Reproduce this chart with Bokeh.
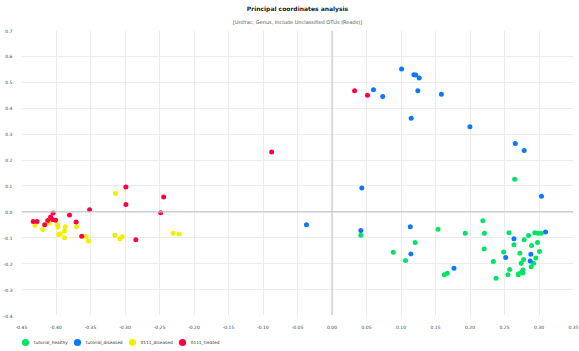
from bokeh.plotting import figure
from bokeh.layouts import column
from bokeh.models import Range1d, Title, Legend, LegendItem, Span, FixedTicker, NumeralTickFormatter
from bokeh.embed import file_html
from bokeh.resources import INLINE

title_text = "Principal coordinates analysis"
subtitle_text = "[Unifrac, Genus, Include Unclassified OTUs (Reads)]"

series_names = ["tutorial_healthy", "tutorial_diseased", "0111_diseased", "0111_treated"]
series_colors = ["#00e466", "#0a78ff", "#f0f000", "#ff0040"]

healthy_x = [0.2647, 0.0418, 0.1537, 0.1206, 0.0889, 0.1066, 0.1628, 0.1671, 0.1931, 0.2186,
             0.2209, 0.2205, 0.2565, 0.2637, 0.2785, 0.2849, 0.2939, 0.2983, 0.3030, 0.2978,
             0.2892, 0.3007, 0.2488, 0.2723, 0.2954, 0.2777, 0.2921, 0.2742, 0.2339, 0.2886,
             0.2575, 0.2767, 0.2752, 0.2705, 0.2767, 0.2550, 0.2699, 0.2378]
healthy_y = [0.1256, -0.0900, -0.0674, -0.1180, -0.1560, -0.1877, -0.2425, -0.2370, -0.0826, -0.0340,
             -0.0826, -0.1435, -0.0810, -0.1268, -0.1077, -0.0914, -0.0810, -0.0826, -0.0826, -0.1180,
             -0.1294, -0.1534, -0.1550, -0.1600, -0.1778, -0.1839, -0.1980, -0.1980, -0.1915, -0.2120,
             -0.2220, -0.2246, -0.2320, -0.2387, -0.2360, -0.2425, -0.2425, -0.2560]

diseased_x = [0.1009, 0.1186, 0.1215, 0.1264, 0.0601, 0.0735, 0.1244, 0.1585, 0.1148, 0.1999,
              0.2656, 0.2785, 0.3036, 0.0432, -0.0370, 0.0418, 0.1134, 0.1143, 0.1768, 0.2637,
              0.3094, 0.2882, 0.2517, 0.2872]
diseased_y = [0.551, 0.529, 0.528, 0.5166, 0.471, 0.445, 0.467, 0.454, 0.3616, 0.3285,
              0.2638, 0.237, 0.0598, 0.0925, -0.0495, -0.0723, -0.057, -0.1625, -0.218, -0.104,
              -0.0773, -0.1637, -0.176, -0.190]

d0111_x = [-0.4304, -0.4193, -0.4097, -0.3977, -0.3973, -0.3963, -0.3938, -0.3876, -0.3876, -0.3866,
           -0.3703, -0.3563, -0.3530, -0.3137, -0.3146, -0.3073, -0.3040, -0.2301, -0.2219]
d0111_y = [-0.052, -0.0685, -0.043, -0.0495, -0.058, -0.0876, -0.085, -0.100, -0.0735, -0.057,
           -0.057, -0.095, -0.112, 0.071, -0.090, -0.104, -0.096, -0.0826, -0.085]

t0111_x = [-0.4330, -0.4275, -0.4164, -0.4120, -0.4078, -0.4042, -0.4050, -0.4006, -0.3804, -0.3708,
           -0.3513, -0.3627, -0.2987, -0.2987, -0.2843, -0.2440, -0.2483, -0.0875, 0.0327, 0.0514]
t0111_y = [-0.037, -0.037, -0.0495, -0.033, -0.020, -0.004, -0.029, -0.032, -0.012, -0.039,
           0.008, -0.094, 0.096, 0.028, -0.108, 0.057, -0.003, 0.231, 0.467, 0.450]

x_ticks = [-0.45, -0.40, -0.35, -0.30, -0.25, -0.20, -0.15, -0.10, -0.05, 0.0,
           0.05, 0.10, 0.15, 0.20, 0.25, 0.30, 0.35]
y_ticks = [-0.4, -0.3, -0.2, -0.1, 0.0, 0.1, 0.2, 0.3, 0.4, 0.5, 0.6, 0.7]

FONT = "DejaVu Sans"

p = figure(width=579, height=331, output_backend="svg", toolbar_location=None,
           x_range=Range1d(-0.45, 0.35), y_range=Range1d(-0.4, 0.7),
           min_border_left=17, min_border_right=6, min_border_top=30, min_border_bottom=12)
p.outline_line_color = None
p.background_fill_color = "white"
p.border_fill_color = "white"

for ax in (p.xaxis[0], p.yaxis[0]):
    ax.axis_line_color = None
    ax.major_tick_line_color = None
    ax.minor_tick_line_color = None
    ax.major_label_text_font = FONT
    ax.major_label_text_font_size = "4.5px"
    ax.major_label_text_color = "#444444"
    ax.major_label_standoff = 3

p.xaxis[0].ticker = FixedTicker(ticks=x_ticks)
p.yaxis[0].ticker = FixedTicker(ticks=y_ticks)
p.xaxis[0].formatter = NumeralTickFormatter(format="0.00")
p.yaxis[0].formatter = NumeralTickFormatter(format="0.0")
p.xgrid[0].ticker = FixedTicker(ticks=x_ticks)
p.ygrid[0].ticker = FixedTicker(ticks=y_ticks)
p.xgrid.grid_line_color = "#ececec"
p.ygrid.grid_line_color = "#ececec"

p.add_layout(Span(location=0, dimension="height", line_color="#c8c8c8", line_width=1.2))
p.add_layout(Span(location=0, dimension="width", line_color="#c8c8c8", line_width=1.2))

all_series = [(healthy_x, healthy_y), (diseased_x, diseased_y), (d0111_x, d0111_y), (t0111_x, t0111_y)]
for (xs, ys), col in zip(all_series, series_colors):
    p.scatter(xs, ys, size=5, fill_color=col, line_color=None)

p.add_layout(Title(text=subtitle_text, align="center", text_font=FONT, text_font_size="5px",
                   text_font_style="normal", text_color="#555555", standoff=11), "above")
p.add_layout(Title(text=title_text, align="center", text_font=FONT, text_font_size="6px",
                   text_font_style="bold", text_color="#222222", standoff=0), "above")

# legend strip below the chart (its own glyphs lie outside its ranges, so only the legend shows)
lg = figure(width=579, height=20, output_backend="svg", toolbar_location=None,
            x_range=Range1d(5, 6), y_range=Range1d(5, 6), min_border=0)
lg.axis.visible = False
lg.grid.visible = False
lg.outline_line_color = None
lg.border_fill_color = "white"
leg_renderers = []
for (xs, ys), col in zip(all_series, series_colors):
    leg_renderers.append(lg.scatter(xs, ys, size=6, fill_color=col, line_color=None))

legend = Legend(items=[LegendItem(label=n, renderers=[r]) for n, r in zip(series_names, leg_renderers)],
                orientation="horizontal", location=(-5, 0))
legend.label_text_font = FONT
legend.label_text_font_size = "4.3px"
legend.label_text_color = "#333333"
legend.glyph_width = 18
legend.glyph_height = 18
legend.label_height = 10
legend.label_standoff = 0
legend.spacing = 0
legend.padding = 0
legend.margin = 0
legend.border_line_color = None
legend.background_fill_alpha = 0
lg.add_layout(legend, "center")

layout = column(p, lg, spacing=0)
open("out.html", "w").write(file_html(layout, INLINE))
